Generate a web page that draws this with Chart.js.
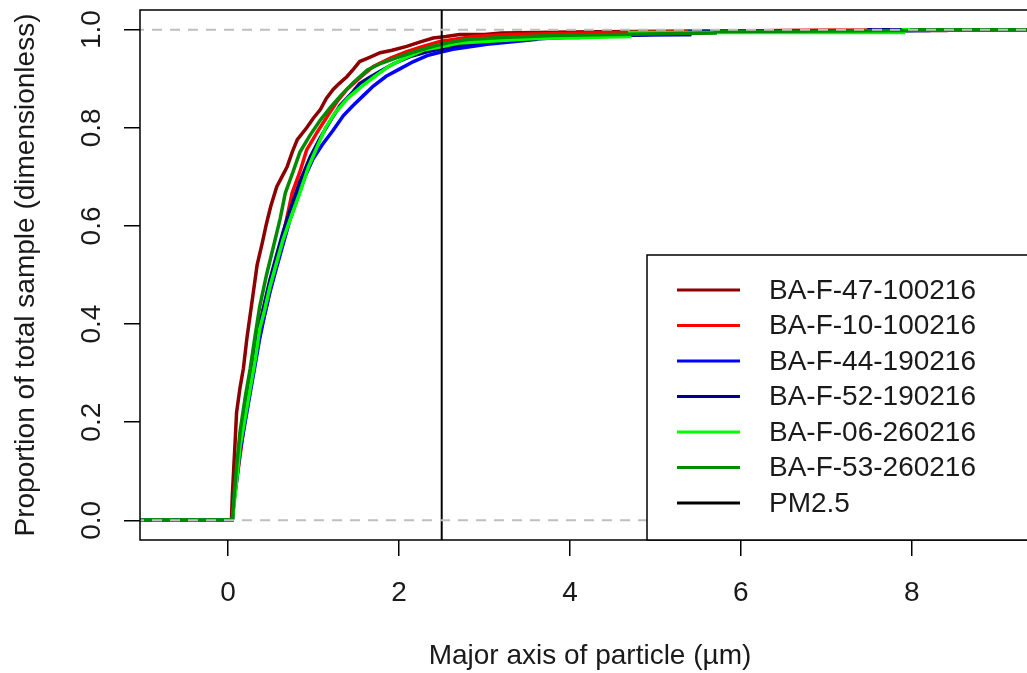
<!DOCTYPE html>
<html><head><meta charset="utf-8">
<script src="https://cdn.jsdelivr.net/npm/chart.js@4.4.1/dist/chart.umd.min.js"></script>
<style>html,body{margin:0;padding:0;overflow:hidden;background:#fff;width:1027px;height:673px}canvas{display:block}</style>
</head><body><canvas id="c" width="1060" height="673"></canvas>
<script>
const seriesLabels = ["BA-F-47-100216","BA-F-10-100216","BA-F-44-190216","BA-F-52-190216","BA-F-06-260216","BA-F-53-260216"];
const seriesColors = ["#8B0000","#FF0000","#0000FF","#00008B","#00FF00","#008B00"];
const pmLabel = "PM2.5";
const pmValue = 2.5;
const xTicks = [0,2,4,6,8];
const yTicks = [0,0.2,0.4,0.6,0.8,1.0];

const x47 = [-1.1,0.04,0.05,0.08,0.10,0.14,0.18,0.22,0.26,0.30,0.34,0.40,0.45,0.50,0.57,0.63,0.69,0.75,0.81,0.92,1.00,1.08,1.15,1.23,1.30,1.39,1.47,1.54,1.65,1.78,1.92,2.09,2.25,2.40,2.55,2.71,3.0,3.2,4.0,5.5,7.0,8.4,8.4,9.8];
const y47 = [0,0,0.05,0.15,0.22,0.27,0.31,0.37,0.42,0.47,0.52,0.565,0.605,0.64,0.68,0.70,0.72,0.75,0.776,0.80,0.82,0.837,0.86,0.878,0.89,0.904,0.92,0.935,0.943,0.953,0.958,0.966,0.975,0.983,0.986,0.99,0.99,0.993,0.995,0.997,0.998,0.998,1,1];

const x10 = [-1.1,0.05,0.07,0.10,0.14,0.20,0.25,0.29,0.35,0.40,0.45,0.53,0.61,0.68,0.75,0.84,0.92,1.04,1.16,1.27,1.39,1.55,1.70,1.90,2.09,2.28,2.48,2.87,3.3,4.2,5.5,6.5,7.5,7.5,9.8];
const y10 = [0,0,0.04,0.08,0.13,0.21,0.26,0.30,0.36,0.40,0.435,0.50,0.557,0.61,0.667,0.71,0.755,0.79,0.823,0.852,0.878,0.903,0.925,0.942,0.955,0.966,0.976,0.986,0.99,0.993,0.996,0.998,0.999,1,1];

const x44 = [-1.1,0.05,0.07,0.10,0.14,0.20,0.26,0.32,0.37,0.43,0.49,0.56,0.64,0.72,0.81,0.90,0.99,1.10,1.23,1.35,1.46,1.58,1.70,1.85,2.01,2.17,2.33,2.48,2.63,3.03,3.3,3.6,3.6,4.1,4.1,5.4,5.4,7.0,8.2,8.2,9.8];
const y44 = [0,0,0.04,0.08,0.14,0.20,0.26,0.32,0.37,0.42,0.465,0.51,0.56,0.61,0.655,0.70,0.735,0.765,0.795,0.825,0.845,0.865,0.885,0.905,0.92,0.935,0.947,0.954,0.96,0.97,0.975,0.98,0.984,0.984,0.988,0.99,0.995,0.997,0.998,1,1];

const x52 = [-1.1,0.05,0.07,0.10,0.14,0.20,0.26,0.32,0.37,0.43,0.49,0.56,0.64,0.74,0.84,0.96,1.08,1.20,1.31,1.46,1.54,1.63,1.78,1.93,2.13,2.33,2.52,2.71,3.0,3.5,4.0,4.6,5.0,5.4,5.4,6.5,7.5,7.5,9.8];
const y52 = [0,0,0.05,0.10,0.16,0.22,0.28,0.345,0.40,0.445,0.49,0.535,0.585,0.64,0.69,0.74,0.78,0.815,0.845,0.873,0.89,0.90,0.915,0.93,0.945,0.955,0.962,0.968,0.975,0.98,0.985,0.988,0.99,0.99,0.995,0.997,0.998,1,1];

const x06 = [-1.1,0.05,0.06,0.10,0.14,0.20,0.26,0.32,0.37,0.43,0.49,0.56,0.64,0.74,0.84,0.94,1.04,1.14,1.25,1.40,1.56,1.72,1.88,2.08,2.30,2.52,2.71,3.2,3.6,4.7,4.7,7.9,7.9,9.8];
const y06 = [0,0,0.015,0.08,0.15,0.21,0.27,0.33,0.39,0.43,0.476,0.52,0.57,0.62,0.667,0.72,0.76,0.80,0.83,0.86,0.884,0.905,0.925,0.943,0.959,0.966,0.973,0.978,0.982,0.986,0.994,0.994,1,1];

const x53 = [-1.1,0.05,0.07,0.10,0.14,0.20,0.26,0.32,0.37,0.45,0.53,0.61,0.67,0.76,0.84,0.96,1.08,1.20,1.31,1.47,1.63,1.80,2.01,2.20,2.40,2.60,2.80,3.2,3.8,4.5,5.7,5.7,7.0,8.0,8.0,9.8];
const y53 = [0,0,0.05,0.11,0.18,0.25,0.31,0.38,0.435,0.50,0.557,0.615,0.667,0.71,0.75,0.785,0.816,0.842,0.864,0.893,0.918,0.932,0.945,0.956,0.966,0.974,0.98,0.984,0.988,0.99,0.993,0.996,0.997,0.998,1,1];

const seriesX = [x47,x10,x44,x52,x06,x53];
const seriesY = [y47,y10,y44,y52,y06,y53];

const FONT = '"Liberation Sans", Arial, sans-serif';
const TEXT = '#1a1a1a';
const zip = (xs, ys) => xs.map((x,i)=>({x:x, y:ys[i]}));

const datasets = [];
datasets.push({label:'_h0', data:[{x:-1.1,y:0},{x:9.8,y:0}], borderColor:'#BEBEBE', borderWidth:2, borderDash:[10,8], pointRadius:0, order:0});
datasets.push({label:'_h1', data:[{x:-1.1,y:1},{x:9.8,y:1}], borderColor:'#BEBEBE', borderWidth:2, borderDash:[10,8], pointRadius:0, order:0});
datasets.push({label:pmLabel, data:[{x:pmValue,y:-0.1},{x:pmValue,y:1.1}], borderColor:'#000', borderWidth:2, pointRadius:0, order:0});
seriesLabels.forEach((lab,i)=>{
  datasets.push({label:lab, data:zip(seriesX[i],seriesY[i]), borderColor:seriesColors[i], borderWidth:3.5,
    pointRadius:0, tension:0, fill:false, order:seriesLabels.length - i});
});

const framePlugin = {
  id:'frame',
  afterDraw(chart){
    const {ctx, chartArea:a, scales} = chart;
    ctx.save();
    ctx.strokeStyle='#000'; ctx.lineWidth=1.5;
    ctx.strokeRect(a.left, a.top, a.right-a.left, a.bottom-a.top);
    ctx.fillStyle=TEXT; ctx.font='28px '+FONT;
    ctx.textAlign='center'; ctx.textBaseline='middle';
    yTicks.forEach(v=>{
      const y=scales.y.getPixelForValue(v);
      ctx.save(); ctx.translate(a.left-48, y); ctx.rotate(-Math.PI/2);
      ctx.fillText(v.toFixed(1),0,0); ctx.restore();
    });
    const lx=647, ly=255;
    ctx.fillStyle='#fff';
    ctx.fillRect(lx, ly, chart.width-lx+10, a.bottom-ly);
    ctx.strokeStyle='#000'; ctx.lineWidth=1.5;
    ctx.strokeRect(lx, ly, chart.width-lx+10, a.bottom-ly);
    const labs = seriesLabels.concat([pmLabel]);
    const cols = seriesColors.concat(['#000']);
    ctx.textAlign='left'; ctx.textBaseline='middle';
    labs.forEach((lab,i)=>{
      const yy = 290 + i*35.5;
      ctx.strokeStyle=cols[i]; ctx.lineWidth=3;
      ctx.beginPath(); ctx.moveTo(677,yy); ctx.lineTo(740,yy); ctx.stroke();
      ctx.fillStyle=TEXT;
      ctx.fillText(lab, 769, yy+1);
    });
    ctx.restore();
  }
};

new Chart(document.getElementById('c'), {
  type:'line',
  data:{datasets},
  options:{
    responsive:false, animation:false, devicePixelRatio:1,
    layout:{padding:{top:10,right:20,left:0,bottom:0}},
    plugins:{legend:{display:false}, tooltip:{enabled:false}},
    scales:{
      x:{type:'linear', min:-1.03, max:9.5,
        afterBuildTicks:s=>{s.ticks=xTicks.map(v=>({value:v}));},
        afterFit:s=>{s.height=133;},
        border:{display:false},
        grid:{drawOnChartArea:false, drawTicks:true, tickLength:16, color:'#000', lineWidth:1.5},
        ticks:{color:TEXT, font:{size:28, family:FONT}, padding:20, maxRotation:0, callback:v=>String(v)},
        title:{display:true, text:'Major axis of particle (\u00b5m)', color:TEXT, font:{size:28, family:FONT, lineHeight:1.2}, padding:{bottom:0}}
      },
      y:{type:'linear', min:-0.04, max:1.04,
        afterBuildTicks:s=>{s.ticks=yTicks.map(v=>({value:v}));},
        afterFit:s=>{s.width=140;},
        border:{display:false},
        grid:{drawOnChartArea:false, drawTicks:true, tickLength:16, color:'#000', lineWidth:1.5},
        ticks:{display:false},
        title:{display:true, text:'Proportion of total sample (dimensionless)', color:TEXT, font:{size:28, family:FONT, lineHeight:1.2}, padding:{top:9}}
      }
    }
  },
  plugins:[framePlugin]
});
</script>
</body></html>
